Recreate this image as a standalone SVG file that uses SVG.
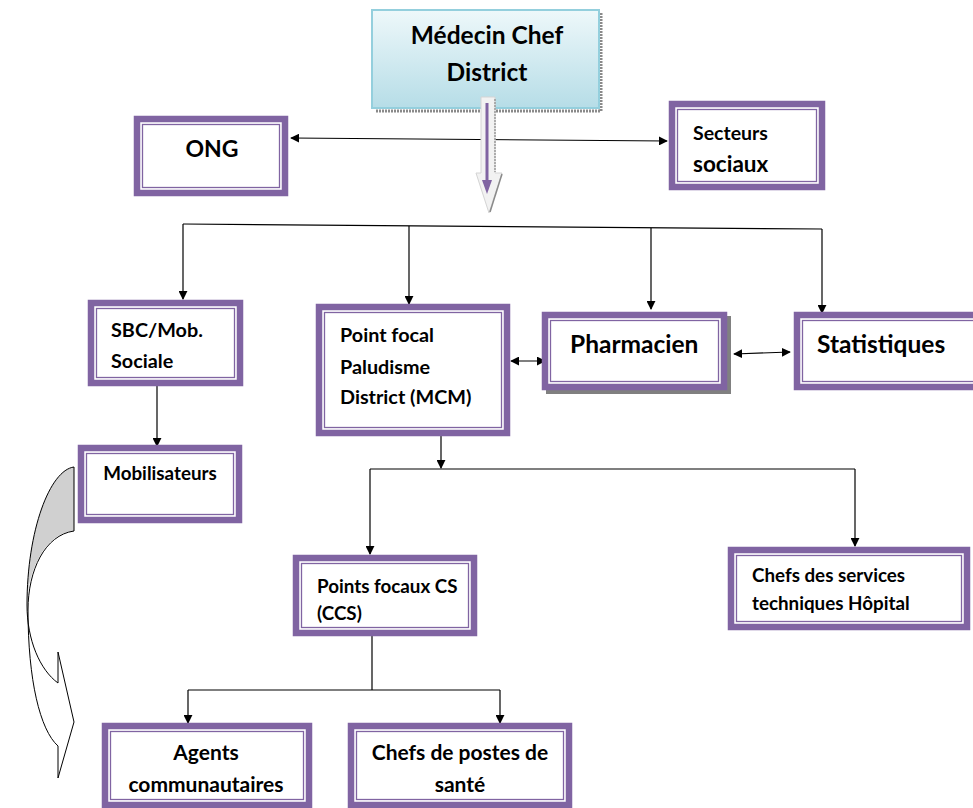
<svg xmlns="http://www.w3.org/2000/svg" width="973" height="808" viewBox="0 0 973 808">
<defs>
<linearGradient id="gBlue" x1="0" y1="0" x2="0" y2="1">
<stop offset="0" stop-color="#eef8fa"/>
<stop offset="1" stop-color="#b6dde7"/>
</linearGradient>
<marker id="ah" viewBox="0 0 10 10" refX="9" refY="5" markerWidth="9" markerHeight="9" markerUnits="userSpaceOnUse" orient="auto-start-reverse">
<path d="M0,0 L10,5 L0,10 Z" fill="#000"/>
</marker>
</defs>
<style>
.ob{fill:#fff;stroke:#8064a2;stroke-width:6.5}
.ib{fill:none;stroke:#8064a2;stroke-width:1.3}
.t{font-family:Lato,"Open Sans",sans-serif;font-weight:bold;fill:#000}
.c{stroke:#000;stroke-width:1.2;fill:none}
.a{marker-end:url(#ah)}
.aa{marker-start:url(#ah);marker-end:url(#ah)}
</style>

<g id="connectors">
<line class="c aa" x1="291" y1="138" x2="667" y2="141"/>
<line class="c" x1="183" y1="224" x2="822" y2="229"/>
<line class="c a" x1="183" y1="224" x2="183" y2="299"/>
<line class="c a" x1="409" y1="226" x2="409" y2="304"/>
<line class="c a" x1="651" y1="228" x2="651" y2="309"/>
<line class="c a" x1="822" y1="229" x2="822" y2="313"/>
<line class="c aa" x1="511" y1="361" x2="545" y2="361"/>
<line class="c aa" x1="734" y1="354" x2="790" y2="352"/>
<line class="c a" x1="157" y1="386" x2="157" y2="446"/>
<line class="c a" x1="441" y1="436" x2="441" y2="468"/>
<line class="c" x1="370" y1="469" x2="855" y2="469"/>
<line class="c a" x1="370" y1="469" x2="370" y2="554"/>
<line class="c a" x1="855" y1="469" x2="855" y2="546"/>
<line class="c" x1="372" y1="636" x2="372" y2="690"/>
<line class="c" x1="188" y1="690" x2="500" y2="690"/>
<line class="c a" x1="188" y1="690" x2="188" y2="723"/>
<line class="c a" x1="500" y1="690" x2="500" y2="723"/>
</g>

<g id="medecin">
<path d="M601,13 L601,111 L375,111" fill="none" stroke="#8a8a8a" stroke-width="3" stroke-dasharray="2,1"/>
<rect x="372" y="10" width="227" height="98" fill="url(#gBlue)" stroke="#94cfdd" stroke-width="2"/>
<text class="t" x="487" y="44" font-size="24.5" text-anchor="middle">Médecin Chef</text>
<text class="t" x="487" y="81" font-size="24.5" text-anchor="middle">District</text>
</g>

<g id="down-arrow">
<polygon points="481,97 495,97 495,173 502,173 489,213 476,173 481,173" fill="#f2f2f2" stroke="#d4d4d4" stroke-width="1"/>
<line x1="495" y1="99" x2="495" y2="172" stroke="#9a9a9a" stroke-width="1.5" stroke-dasharray="2,1"/>
<line x1="502" y1="174" x2="490" y2="212" stroke="#8a8a8a" stroke-width="1.5"/>
<line x1="487" y1="103" x2="487" y2="182" stroke="#8064a2" stroke-width="3"/>
<polygon points="482,180 492,180 487,194" fill="#8064a2"/>
</g>

<g id="ong">
<rect class="ob" x="137" y="119" width="148" height="74"/>
<rect class="ib" x="142.5" y="124.5" width="137" height="63"/>
<text class="t" x="212" y="157" font-size="23" text-anchor="middle">ONG</text>
</g>

<g id="secteurs">
<rect class="ob" x="672" y="104" width="150" height="83"/>
<rect class="ib" x="677.5" y="109.5" width="139" height="72"/>
<text class="t" x="693" y="140" font-size="19.5">Secteurs</text>
<text class="t" x="693" y="172" font-size="22.5">sociaux</text>
</g>

<g id="sbc">
<rect class="ob" x="91" y="303" width="149" height="80"/>
<rect class="ib" x="96.5" y="308.5" width="138" height="69"/>
<text class="t" x="111" y="337" font-size="19.8">SBC/Mob.</text>
<text class="t" x="111" y="368" font-size="19.8">Sociale</text>
</g>

<g id="point-focal">
<rect class="ob" x="319" y="307" width="188" height="126"/>
<rect class="ib" x="324.5" y="312.5" width="177" height="115"/>
<text class="t" x="340" y="342" font-size="19.8">Point focal</text>
<text class="t" x="340" y="374" font-size="19.8">Paludisme</text>
<text class="t" x="340" y="404" font-size="19.8">District (MCM)</text>
</g>

<g id="pharmacien">
<rect x="546" y="316" width="185" height="78" fill="#808080"/>
<rect class="ob" x="545" y="315" width="179" height="72"/>
<rect class="ib" x="550.5" y="320.5" width="168" height="61"/>
<text class="t" x="570" y="353" font-size="24.5">Pharmacien</text>
</g>

<g id="statistiques">
<rect class="ob" x="797" y="315" width="190" height="72"/>
<rect class="ib" x="802.5" y="320.5" width="179" height="61"/>
<text class="t" x="817" y="353" font-size="24.5">Statistiques</text>
</g>

<g id="mobilisateurs">
<rect class="ob" x="81" y="448" width="158" height="72"/>
<rect class="ib" x="86.5" y="453.5" width="147" height="61"/>
<text class="t" x="160" y="480" font-size="18.8" text-anchor="middle">Mobilisateurs</text>
</g>

<g id="curved-arrow">
<path d="M74,467 C50,470 27,530 27,605 C28,570 45,533 74,531 Z" fill="#d0d0d0" stroke="none"/>
<path d="M74,467 C50,470 27,530 27,605 C27,640 40,670 58,683" fill="none" stroke="#000" stroke-width="1"/>
<path d="M74,531 C45,535 28,570 28,610 C28,680 40,730 58,746" fill="none" stroke="#000" stroke-width="1"/>
<polyline points="74,467 74,531" fill="none" stroke="#000" stroke-width="1"/>
<polyline points="58,683 58,652 74,722 58,778 58,746" fill="none" stroke="#000" stroke-width="1"/>
</g>

<g id="points-focaux">
<rect class="ob" x="296" y="558" width="178" height="75"/>
<rect class="ib" x="301.5" y="563.5" width="167" height="64"/>
<text class="t" x="317" y="593" font-size="18.8">Points focaux CS</text>
<text class="t" x="317" y="620" font-size="18.8">(CCS)</text>
</g>

<g id="chefs-services">
<rect class="ob" x="731" y="550" width="236" height="77"/>
<rect class="ib" x="736.5" y="555.5" width="225" height="66"/>
<text class="t" x="752" y="582" font-size="18.8">Chefs des services</text>
<text class="t" x="752" y="610" font-size="18.8">techniques Hôpital</text>
</g>

<g id="agents">
<rect class="ob" x="105" y="726" width="204" height="79"/>
<rect class="ib" x="110.5" y="731.5" width="193" height="68"/>
<text class="t" x="206" y="760" font-size="21" text-anchor="middle">Agents</text>
<text class="t" x="206" y="792" font-size="21" text-anchor="middle">communautaires</text>
</g>

<g id="chefs-postes">
<rect class="ob" x="351" y="726" width="218" height="79"/>
<rect class="ib" x="356.5" y="731.5" width="207" height="68"/>
<text class="t" x="460" y="760" font-size="21" text-anchor="middle">Chefs de postes de</text>
<text class="t" x="460" y="792" font-size="21" text-anchor="middle">santé</text>
</g>
</svg>
